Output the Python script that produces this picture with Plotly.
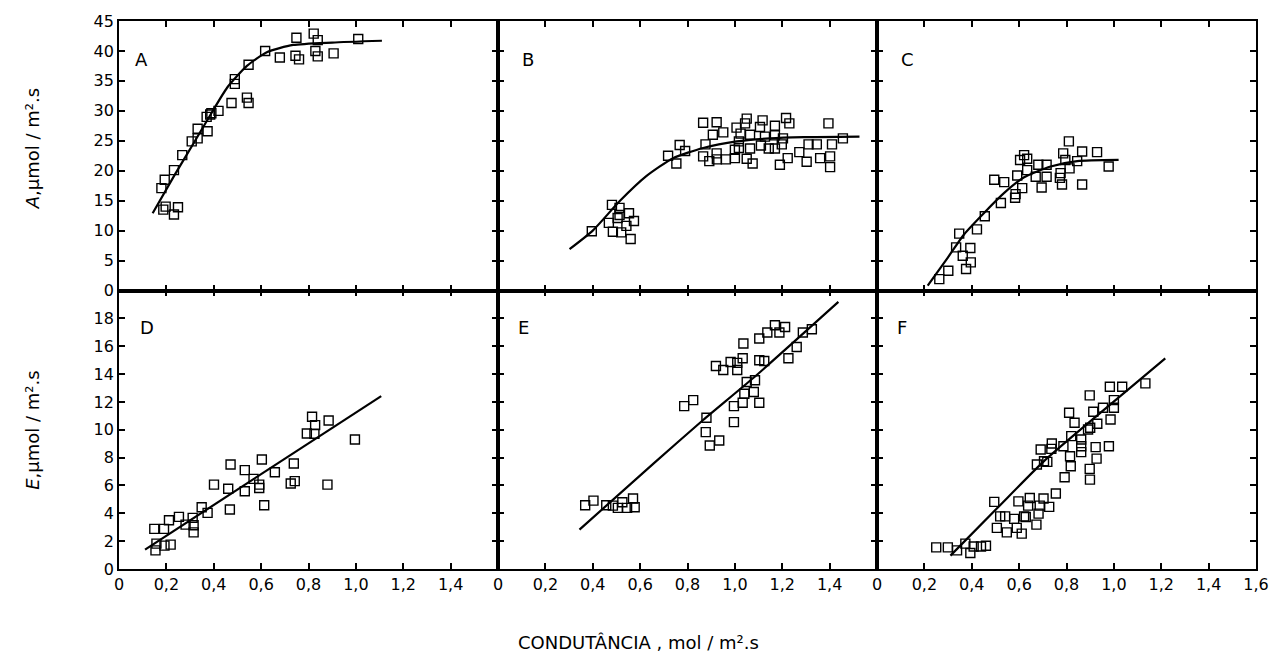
import plotly.graph_objects as go
from plotly.subplots import make_subplots

# ---------------- data ----------------
# Panel A: A vs conductance
a_x = [0.179, 0.193, 0.187, 0.197, 0.232, 0.249, 0.232, 0.267, 0.307, 0.332, 0.332, 0.374,
       0.370, 0.385, 0.390, 0.420, 0.475, 0.489, 0.489, 0.540, 0.547, 0.547, 0.617, 0.679,
       0.749, 0.745, 0.760, 0.822, 0.839, 0.829, 0.839, 0.906, 1.010]
a_y = [17.1, 18.5, 13.5, 14.0, 12.7, 13.9, 20.1, 22.6, 24.9, 25.4, 27.0, 26.6,
       29.0, 29.4, 29.6, 30.0, 31.3, 34.5, 35.3, 32.2, 31.3, 37.7, 40.0, 38.9,
       42.2, 39.2, 38.6, 42.9, 41.8, 40.0, 39.1, 39.6, 42.0]
a_fit_x = [0.142, 0.235, 0.318, 0.390, 0.457, 0.540, 0.624, 0.735, 0.900, 1.110]
a_fit_y = [12.9, 19.3, 24.8, 29.6, 33.9, 37.5, 39.8, 41.0, 41.4, 41.7]

# Panel B
b_x = [0.396, 0.481, 0.513, 0.553, 0.468, 0.505, 0.542, 0.574, 0.485, 0.520, 0.560, 0.513,
       0.718, 0.767, 0.790, 0.753, 0.866, 0.923, 0.907, 0.951, 0.876, 0.866, 0.892, 0.923,
       0.924, 0.962, 1.000, 1.000, 1.007, 1.043, 1.050, 1.024, 1.064, 1.017, 1.017, 1.064,
       1.050, 1.075, 1.106, 1.117, 1.110, 1.127, 1.143, 1.169, 1.169, 1.169, 1.198, 1.203,
       1.216, 1.230, 1.223, 1.190, 1.272, 1.311, 1.346, 1.303, 1.360, 1.395, 1.402, 1.402,
       1.410, 1.456]
b_y = [9.9, 14.3, 13.8, 12.9, 11.3, 12.1, 10.8, 11.6, 9.8, 9.7, 8.6, 12.6,
       22.5, 24.3, 23.3, 21.2, 28.0, 28.1, 26.0, 26.4, 24.4, 22.4, 21.6, 22.9,
       21.9, 21.9, 22.1, 23.5, 27.2, 27.9, 28.7, 26.2, 26.0, 24.9, 23.8, 23.7,
       22.0, 21.2, 27.3, 28.4, 24.2, 25.7, 23.7, 27.5, 25.9, 23.7, 24.4, 25.4,
       28.8, 27.9, 22.1, 21.0, 23.1, 24.4, 24.4, 21.5, 22.1, 27.9, 22.4, 20.6,
       24.4, 25.4]
b_fit_x = [0.302, 0.400, 0.513, 0.626, 0.739, 0.866, 1.007, 1.148, 1.290, 1.526]
b_fit_y = [6.9, 10.0, 14.9, 19.1, 22.1, 23.8, 24.9, 25.4, 25.6, 25.7]

# Panel C
c_x = [0.263, 0.301, 0.376, 0.396, 0.362, 0.394, 0.334, 0.347, 0.422, 0.455, 0.523, 0.583,
       0.585, 0.613, 0.495, 0.537, 0.592, 0.634, 0.670, 0.695, 0.681, 0.716, 0.716, 0.604,
       0.621, 0.634, 0.775, 0.772, 0.781, 0.786, 0.795, 0.813, 0.810, 0.845, 0.866, 0.866,
       0.929, 0.978]
c_y = [1.9, 3.3, 3.6, 4.7, 5.8, 7.1, 7.2, 9.5, 10.2, 12.4, 14.6, 15.5,
       16.1, 17.1, 18.5, 18.1, 19.2, 20.1, 19.0, 17.2, 21.0, 21.0, 19.0, 21.8,
       22.6, 22.0, 19.6, 18.8, 17.7, 22.9, 21.8, 20.4, 24.9, 21.6, 17.7, 23.2,
       23.1, 20.7]
c_fit_x = [0.214, 0.299, 0.368, 0.453, 0.537, 0.621, 0.733, 0.845, 1.020]
c_fit_y = [0.8, 5.5, 9.4, 13.0, 16.3, 18.9, 20.7, 21.6, 21.8]

# Panel D: E vs conductance
d_x = [0.149, 0.190, 0.154, 0.158, 0.192, 0.218, 0.211, 0.253, 0.281, 0.311, 0.315, 0.315,
       0.349, 0.374, 0.401, 0.461, 0.468, 0.471, 0.531, 0.531, 0.568, 0.592, 0.592, 0.603,
       0.613, 0.658, 0.725, 0.742, 0.738, 0.793, 0.815, 0.828, 0.825, 0.885, 0.880, 0.996]
d_y = [2.88, 2.88, 1.34, 1.82, 1.68, 1.75, 3.50, 3.74, 3.19, 3.67, 3.14, 2.63,
       4.43, 4.03, 6.06, 5.76, 4.27, 7.50, 7.10, 5.58, 6.47, 6.06, 5.82, 7.86,
       4.58, 6.95, 6.14, 6.31, 7.58, 9.73, 10.93, 10.33, 9.71, 10.67, 6.06, 9.30]
d_fit_x = [0.110, 1.107]
d_fit_y = [1.39, 12.42]

# Panel E
e_x = [0.368, 0.403, 0.457, 0.485, 0.506, 0.525, 0.545, 0.570, 0.577, 0.786, 0.824, 0.880,
       0.877, 0.894, 0.934, 0.920, 0.951, 0.982, 1.010, 1.010, 1.033, 1.036, 0.996, 0.996,
       1.033, 1.040, 1.050, 1.085, 1.080, 1.103, 1.103, 1.124, 1.103, 1.137, 1.169, 1.188,
       1.212, 1.226, 1.261, 1.287, 1.325]
e_y = [4.58, 4.91, 4.58, 4.55, 4.39, 4.79, 4.39, 5.06, 4.44, 11.70, 12.13, 10.86,
       9.83, 8.87, 9.23, 14.58, 14.29, 14.87, 14.29, 14.80, 15.13, 16.19, 11.70, 10.55,
       11.94, 12.59, 13.43, 13.55, 12.71, 11.94, 14.99, 14.94, 16.55, 16.98, 17.50, 16.98,
       17.38, 15.13, 15.94, 16.98, 17.22]
e_fit_x = [0.344, 0.655, 0.866, 1.080, 1.437]
e_fit_y = [2.83, 7.55, 10.70, 13.75, 19.18]

# Panel F
f_x = [0.250, 0.299, 0.338, 0.373, 0.394, 0.408, 0.439, 0.460, 0.495, 0.506, 0.520, 0.541,
       0.548, 0.579, 0.590, 0.597, 0.611, 0.621, 0.628, 0.638, 0.645, 0.673, 0.682, 0.687,
       0.703, 0.727, 0.755, 0.675, 0.691, 0.705, 0.719, 0.736, 0.738, 0.787, 0.792, 0.815,
       0.818, 0.820, 0.811, 0.834, 0.862, 0.862, 0.862, 0.891, 0.900, 0.898, 0.913, 0.923,
       0.927, 0.898, 0.899, 0.930, 0.954, 0.979, 0.986, 0.983, 1.000, 1.000, 1.035, 1.133]
f_y = [1.55, 1.55, 1.34, 1.82, 1.15, 1.62, 1.62, 1.67, 4.82, 2.95, 3.78, 3.78,
       2.63, 3.60, 2.95, 4.86, 2.54, 3.78, 3.73, 4.55, 5.10, 3.19, 3.98, 4.55,
       5.06, 4.46, 5.42, 7.50, 8.58, 7.74, 7.69, 8.63, 9.01, 8.82, 6.59, 8.10,
       7.38, 9.54, 11.22, 10.50, 9.30, 8.82, 8.39, 10.02, 10.14, 12.47, 11.29, 8.75,
       7.93, 7.19, 6.42, 10.43, 11.58, 8.82, 10.74, 13.09, 11.58, 12.13, 13.09, 13.33]
f_fit_x = [0.310, 0.509, 0.705, 0.900, 1.217]
f_fit_y = [0.96, 4.40, 7.75, 10.60, 15.13]

panel_letters = ["A", "B", "C", "D", "E", "F"]
x_ticks_vals = [0, 0.2, 0.4, 0.6, 0.8, 1.0, 1.2, 1.4, 1.6]
x_ticks_text = ["0", "0,2", "0,4", "0,6", "0,8", "1,0", "1,2", "1,4", "1,6"]
y_top_ticks = [0, 5, 10, 15, 20, 25, 30, 35, 40, 45]
y_bot_ticks = [0, 2, 4, 6, 8, 10, 12, 14, 16, 18, 20]

# ---------------- figure ----------------
FONT = "DejaVu Sans"
TICKFONT = dict(family=FONT, size=16, color="black")
fig = make_subplots(rows=2, cols=3, horizontal_spacing=0, vertical_spacing=0,
                    row_heights=[270, 279])

panels = [
    (1, 1, a_x, a_y, a_fit_x, a_fit_y),
    (1, 2, b_x, b_y, b_fit_x, b_fit_y),
    (1, 3, c_x, c_y, c_fit_x, c_fit_y),
    (2, 1, d_x, d_y, d_fit_x, d_fit_y),
    (2, 2, e_x, e_y, e_fit_x, e_fit_y),
    (2, 3, f_x, f_y, f_fit_x, f_fit_y),
]

for r, c, px, py, lx, ly in panels:
    fig.add_trace(go.Scatter(x=lx, y=ly, mode="lines",
                             line=dict(color="black", width=2.2, shape="spline", smoothing=0.6),
                             showlegend=False, hoverinfo="skip"), row=r, col=c)
    fig.add_trace(go.Scatter(x=px, y=py, mode="markers",
                             marker=dict(symbol="square-open", size=9, color="black",
                                         line=dict(width=1.4, color="black")),
                             showlegend=False), row=r, col=c)

for r in (1, 2):
    for c in (1, 2, 3):
        if r == 2:
            tt = x_ticks_text if c == 3 else x_ticks_text[:-1] + [""]
            fig.update_xaxes(tickvals=x_ticks_vals, ticktext=tt, showticklabels=True, row=r, col=c)
        else:
            fig.update_xaxes(tickvals=x_ticks_vals, showticklabels=False, row=r, col=c)
        fig.update_xaxes(range=[0, 1.6], showgrid=False, zeroline=False, showline=True,
                         linecolor="black", linewidth=1.8, mirror="allticks", ticks="inside",
                         ticklen=6, tickwidth=1.5, tickcolor="black", ticklabeloverflow="allow",
                         tickfont=TICKFONT, row=r, col=c)
        if r == 1:
            fig.update_yaxes(range=[0, 45], tickvals=y_top_ticks,
                             ticktext=[str(v) for v in y_top_ticks], row=r, col=c)
        else:
            fig.update_yaxes(range=[0, 20], tickvals=y_bot_ticks,
                             ticktext=[str(v) for v in y_bot_ticks[:-1]] + [""], row=r, col=c)
        fig.update_yaxes(showticklabels=(c == 1), showgrid=False, zeroline=False, showline=True,
                         linecolor="black", linewidth=1.8, mirror="allticks", ticks="inside",
                         ticklen=6, tickwidth=1.5, tickcolor="black",
                         tickfont=TICKFONT, row=r, col=c)

# panel letters
letter_pos = {(1, 1): (0.06, 0.857), (1, 2): (0.08, 0.857), (1, 3): (0.08, 0.857),
              (2, 1): (0.073, 0.867), (2, 2): (0.068, 0.867), (2, 3): (0.066, 0.867)}
for i, (r, c, *_rest) in enumerate(panels):
    idx = (r - 1) * 3 + c
    suffix = "" if idx == 1 else str(idx)
    lx, ly = letter_pos[(r, c)]
    fig.add_annotation(x=lx, y=ly, xref=f"x{suffix} domain", yref=f"y{suffix} domain",
                       text=panel_letters[i], showarrow=False, xanchor="center", yanchor="middle",
                       font=dict(family=FONT, size=18, color="black"))

W, H = 1281, 668
ML, MR, MT, MB = 119, 17, 20, 99
pw, ph = W - ML - MR, H - MT - MB


def px2paper(xp, yp):
    return (xp - ML) / pw, 1 - (yp - MT) / ph


titles = [
    (32, 148, "<i>A</i>,μmol / m².s", -90),
    (32, 430, "<i>E</i>,μmol / m².s", -90),
    (642, 643, "CONDUTÂNCIA , mol / m².s", 0),
]
for xp, yp, txt, ang in titles:
    xx, yy = px2paper(xp, yp)
    fig.add_annotation(x=xx, y=yy, xref="paper", yref="paper", text=txt, showarrow=False,
                       textangle=ang, xanchor="center", yanchor="middle",
                       font=dict(family=FONT, size=18, color="black"))

fig.update_layout(width=W, height=H, margin=dict(l=ML, r=MR, t=MT, b=MB),
                  plot_bgcolor="white", paper_bgcolor="white",
                  font=dict(family=FONT, color="black"))

fig.write_html("out.html", config={"displayModeBar": False},
               post_script="document.body.style.margin='0';document.body.style.padding='0';document.body.style.overflow='hidden';")
